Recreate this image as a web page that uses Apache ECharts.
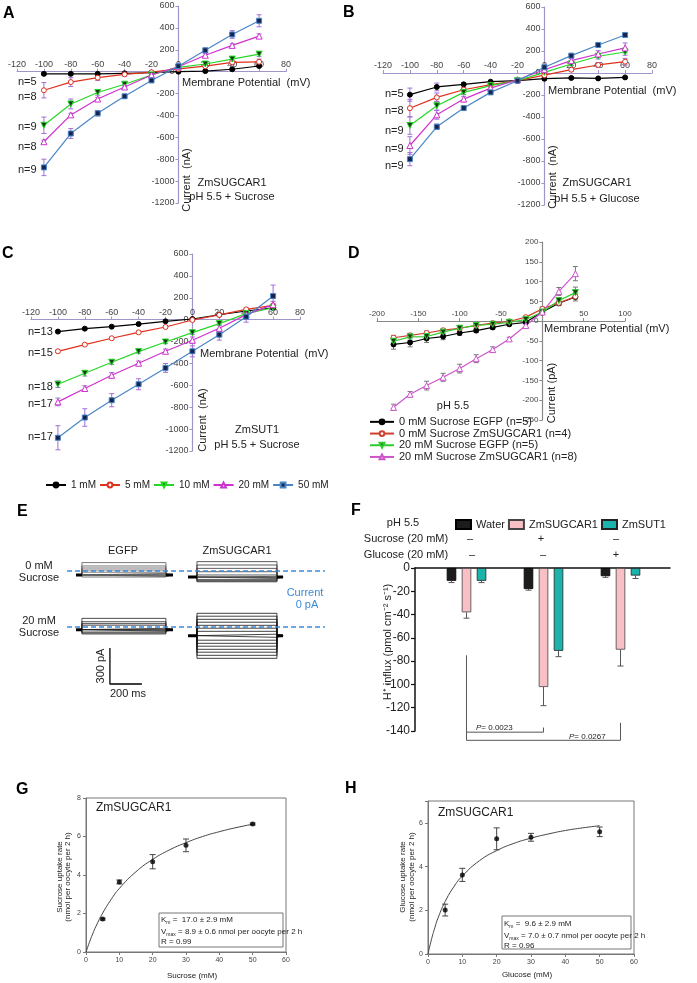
<!DOCTYPE html>
<html>
<head>
<meta charset="utf-8">
<script src="https://cdn.jsdelivr.net/npm/echarts@6/dist/echarts.min.js"></script>
<style>
  html, body { margin: 0; background: #fff; }
  #chart { width: 697px; height: 983px; }
</style>
</head>
<body>
<div id="chart"></div>
<script>
// ---- data ----
const mvABC = [-100, -80, -60, -40, -20, 0, 20, 40, 60];
const concNames = ['1 mM', '5 mM', '10 mM', '20 mM', '50 mM'];

// A: ZmSUGCAR1, sucrose (nA)
const a1 = [-20, -20, -20, -15, -10, 0, 5, 22, 52];
const a5 = [-170, -95, -55, -25, -5, 25, 50, 85, 90];
const a10 = [-490, -295, -190, -115, -30, 40, 70, 115, 160];
const a20 = [-640, -395, -250, -140, -30, 45, 150, 240, 325];
const a50 = [-875, -565, -380, -225, -80, 50, 195, 340, 465];
const aErr1 = [10, 10, 10, 10, 10, 10, 10, 10, 10];
const aErr5 = [70, 40, 25, 15, 10, 10, 15, 20, 25];
const aErr10 = [75, 45, 25, 15, 10, 10, 15, 20, 20];
const aErr20 = [15, 15, 15, 10, 10, 10, 15, 15, 20];
const aErr50 = [75, 45, 25, 15, 10, 10, 20, 35, 55];

// B: ZmSUGCAR1, glucose (nA)
const b1 = [-197, -127, -103, -79, -70, -52, -45, -49, -40];
const b5 = [-320, -222, -152, -106, -70, -20, 30, 73, 103];
const b10 = [-477, -298, -176, -115, -70, 6, 82, 152, 191];
const b20 = [-659, -380, -237, -137, -61, 30, 112, 173, 228];
const b50 = [-783, -489, -319, -176, -70, 52, 158, 255, 346];
const bErr1 = [60, 35, 15, 10, 10, 10, 10, 10, 10];
const bErr5 = [80, 40, 20, 15, 10, 10, 15, 20, 30];
const bErr10 = [80, 40, 20, 15, 10, 10, 15, 25, 30];
const bErr20 = [80, 40, 25, 15, 10, 15, 20, 30, 45];
const bErr50 = [60, 25, 15, 10, 10, 10, 10, 15, 10];

// C: ZmSUT1, sucrose (nA)
const c1 = [-109, -82, -64, -40, -15, 6, 45, 79, 109];
const c5 = [-289, -228, -170, -116, -67, -3, 43, 94, 130];
const c10 = [-590, -490, -389, -292, -204, -119, -36, 55, 109];
const c20 = [-751, -629, -508, -398, -289, -188, -79, 46, 137];
const c50 = [-1079, -894, -736, -590, -441, -289, -137, 27, 216];
const cErr1 = [10, 8, 8, 8, 8, 8, 8, 10, 10];
const cErr5 = [12, 10, 10, 10, 10, 10, 10, 12, 15];
const cErr10 = [30, 25, 20, 15, 15, 15, 15, 20, 20];
const cErr20 = [35, 25, 25, 20, 20, 30, 30, 30, 30];
const cErr50 = [110, 80, 60, 50, 40, 50, 50, 50, 100];

// D: patch clamp (pA)
const mvD = [-180, -160, -140, -120, -100, -80, -60, -40, -20, 0, 20, 40];
const dNames = ['0 mM Sucrose EGFP (n=5)', '0 mM Sucrose ZmSUGCAR1 (n=4)',
  '20 mM Sucrose EGFP (n=5)', '20 mM Sucrose ZmSUGCAR1 (n=8)'];
const dEgfp0 = [-59, -54, -44, -39, -30, -24, -16, -8, -3, 23, 45, 61];
const dSug0 = [-42, -36, -30, -23, -18, -11, -5, -1, 10, 31, 46, 62];
const dEgfp20 = [-51, -40, -39, -28, -18, -11, -8, -3, 4, 23, 52, 72];
const dSug20 = [-218, -185, -163, -142, -120, -95, -72, -45, -11, 23, 75, 120];
const dErrEgfp0 = [12, 11, 10, 8, 6, 5, 5, 4, 4, 5, 6, 10];
const dErrSug0 = [6, 5, 5, 4, 4, 3, 3, 3, 3, 5, 5, 6];
const dErrEgfp20 = [8, 8, 7, 6, 5, 4, 3, 3, 3, 5, 6, 14];
const dErrSug20 = [8, 7, 11, 10, 11, 10, 7, 4, 5, 5, 10, 18];

// E: current traces, steady levels (pA) and holding currents
const eEgfp0 = [70, 42, 25, 8, -10, -20, -28, -34, -40, -45, -50];
const eSug0 = [78, 50, 22, -6, -33, -45, -55, -62, -70, -78, -85, -90];
const eEgfp20 = [72, 44, 28, 15, -11, -20, -28, -35, -42, -50, -58];
const eSug20 = [114, 90, 64, 40, 14, -10, -36, -60, -86, -110, -136, -160, -186, -210, -236, -261];
const eHoldEgfp0 = -33, eHoldSug0 = -50, eHoldEgfp20 = -22, eHoldSug20 = -72;
const eTimeEgfp = [100, 137, 662, 706];   // ms: hold start, pulse on, pulse off, hold end
const eTimeSug = [800, 856, 1356, 1394];
const eTimeLine = [44, 1656];
const eScaleBar = [[312, -175], [312, -475], [512, -475]];

// F: H+ influx
const fGroups = ['none', 'sucrose', 'glucose'];
const fWater = [-11, -18, -7];
const fSugcar = [-38, -102, -70];
const fSut = [-11, -71, -6.5];
const fWaterErr = [1.5, 1, 1];
const fSugcarErr = [5, 16, 14];
const fSutErr = [1.5, 5, 2.5];
const fBracket1 = [[0, -75], [0, -141], [1, -141], [1, -137]];
const fBracket2 = [[0, -141], [0, -148], [2, -148], [2, -133]];

// G, H: uptake kinetics
const kConc = [5, 10, 20, 30, 50];
const gRate = [1.71, 3.64, 4.69, 5.54, 6.65];
const gErr = [0.05, 0.1, 0.37, 0.33, 0.05];
const hRate = [2.01, 3.62, 5.27, 5.34, 5.59];
const hErr = [0.27, 0.3, 0.5, 0.18, 0.22];
const fitX = [0, 1, 2, 3, 5, 7.5, 10, 15, 20, 25, 30, 35, 40, 45, 50];
const gFit = [0, 0.49, 0.94, 1.34, 2.02, 2.72, 3.30, 4.17, 4.81, 5.30, 5.68, 6.00, 6.25, 6.46, 6.64];
const hFit = [0, 0.66, 1.21, 1.68, 2.40, 3.07, 3.57, 4.27, 4.73, 5.06, 5.30, 5.49, 5.65, 5.77, 5.87];

// ---- helpers ----
const FONT = '"Liberation Sans", Arial, sans-serif';
const chart = echarts.init(document.getElementById('chart'));

const grids = [
  { left: 17, top: 6, width: 269, height: 197 },    // 0 A
  { left: 383, top: 7, width: 269, height: 198 },   // 1 B
  { left: 31, top: 254, width: 269, height: 197 },  // 2 C
  { left: 377, top: 242, width: 248, height: 178 }, // 3 D
  { left: 60, top: 547, width: 272, height: 60 },   // 4 E row 1
  { left: 60, top: 603, width: 272, height: 96 },   // 5 E row 2
  { left: 415, top: 568, width: 255, height: 163 }, // 6 F axes
  { left: 428, top: 568, width: 231, height: 175 }, // 7 F bars
  { left: 86, top: 798, width: 200, height: 154, show: true, borderColor: '#777', borderWidth: 1 }, // 8 G
  { left: 428, top: 801, width: 206, height: 153, show: true, borderColor: '#777', borderWidth: 1 } // 9 H
];

const concStyles = [
  { c: '#000000', sym: 'circle', fill: '#000000', size: 5 },
  { c: '#e0301e', sym: 'circle', fill: '#ffffff', size: 5 },
  { c: '#26d826', sym: 'triangle', fill: '#153c15', size: 6, rot: 180 },
  { c: '#cc33cc', sym: 'triangle', fill: '#ffffff', size: 6 },
  { c: '#4a86c6', sym: 'rect', fill: '#152550', size: 5 }
];
const dStyles = [
  { c: '#000000', sym: 'circle', fill: '#000000', size: 5 },
  { c: '#d0402e', sym: 'circle', fill: '#ffffff', size: 5 },
  { c: '#2ccc2c', sym: 'triangle', fill: '#143a14', size: 6, rot: 180 },
  { c: '#cc55cc', sym: 'triangle', fill: '#ffffff', size: 6 }
];

function zip(xs, ys) {
  return xs.map((x, i) => [x, ys[i]]);
}

function lineSeries(name, idx, xs, ys, st) {
  return {
    type: 'line', name: name, xAxisIndex: idx, yAxisIndex: idx,
    data: zip(xs, ys),
    symbol: st.sym, symbolSize: st.size, symbolRotate: st.rot || 0,
    lineStyle: { color: st.c, width: 1.2 },
    itemStyle: { color: st.fill, borderColor: st.c, borderWidth: 1 },
    z: 3
  };
}

function errRender(color, cap, dx, oneSided) {
  return function (params, api) {
    const x = api.value(0);
    const a = api.coord([x, api.value(1)]);
    const b = api.coord([x, api.value(2)]);
    const px = a[0] + dx;
    const st = { stroke: color, lineWidth: 1 };
    const kids = [
      { type: 'line', shape: { x1: px, y1: a[1], x2: px, y2: b[1] }, style: st },
      { type: 'line', shape: { x1: px - cap, y1: b[1], x2: px + cap, y2: b[1] }, style: st }
    ];
    if (!oneSided) {
      kids.push({ type: 'line', shape: { x1: px - cap, y1: a[1], x2: px + cap, y2: a[1] }, style: st });
    }
    return { type: 'group', children: kids };
  };
}

function errSeries(idx, xs, ys, es, color, cap) {
  return {
    type: 'custom', xAxisIndex: idx, yAxisIndex: idx, silent: true, z: 2,
    renderItem: errRender(color, cap, 0, false),
    encode: { x: 0, y: [1, 2] },
    data: xs.map((x, i) => [x, ys[i] - es[i], ys[i] + es[i]])
  };
}

function txt(x, y, text, opt) {
  opt = opt || {};
  const align = opt.align || 'left';
  return {
    type: 'text', x: x, y: y, rotation: opt.rot || 0, z: 100, silent: true,
    style: {
      text: text,
      font: (opt.italic ? 'italic ' : '') + (opt.bold ? 'bold ' : '') + (opt.size || 11) + 'px ' + FONT,
      fill: opt.color || '#222',
      align: align, textAlign: align,
      verticalAlign: 'middle', textVerticalAlign: 'middle',
      rich: opt.rich
    }
  };
}

// IV axes crossing at zero: shift each axis inward to the other axis' zero
function ivX(idx, min, max, interval, ymin, ymax, color, size) {
  const off = -grids[idx].height * ymax / (ymax - ymin);
  return {
    gridIndex: idx, type: 'value', min: min, max: max, interval: interval,
    position: 'top', offset: off,
    axisLine: { onZero: false, lineStyle: { color: color, width: 1.2 } },
    axisTick: { show: true, length: 3, lineStyle: { color: color } },
    axisLabel: { fontSize: size, color: '#444', margin: 3, fontFamily: FONT, formatter: (v) => String(v) },
    splitLine: { show: false }
  };
}
function ivY(idx, min, max, interval, xmin, xmax, color, size) {
  const off = grids[idx].width * xmin / (xmax - xmin);
  return {
    gridIndex: idx, type: 'value', min: min, max: max, interval: interval,
    position: 'left', offset: off,
    axisLine: { onZero: false, lineStyle: { color: color, width: 1.2 } },
    axisTick: { show: true, length: 3, lineStyle: { color: color } },
    axisLabel: { fontSize: size, color: '#444', margin: 4, fontFamily: FONT, formatter: (v) => String(v) },
    splitLine: { show: false }
  };
}
function hidden(idx, type, min, max) {
  return { gridIndex: idx, type: type, min: min, max: max, show: false };
}
function boxX(idx) {
  return {
    gridIndex: idx, type: 'value', min: 0, max: 60, interval: 10,
    axisLine: { onZero: false, lineStyle: { color: '#777' } },
    axisTick: { length: 3, lineStyle: { color: '#777' } },
    axisLabel: { fontSize: 7, color: '#444', margin: 5, fontFamily: FONT },
    splitLine: { show: false }
  };
}
function boxY(idx, max) {
  return {
    gridIndex: idx, type: 'value', min: 0, max: max, interval: 2,
    axisLine: { onZero: false, lineStyle: { color: '#777' } },
    axisTick: { length: 3, lineStyle: { color: '#777' } },
    axisLabel: { fontSize: 7, color: '#444', margin: 5, fontFamily: FONT,
      formatter: (v) => (v % 2 === 0 ? String(v) : '') },
    splitLine: { show: false }
  };
}

const series = [];

// A, B, C
const ivPanels = [
  { idx: 0, vals: [a1, a5, a10, a20, a50], errs: [aErr1, aErr5, aErr10, aErr20, aErr50] },
  { idx: 1, vals: [b1, b5, b10, b20, b50], errs: [bErr1, bErr5, bErr10, bErr20, bErr50] },
  { idx: 2, vals: [c1, c5, c10, c20, c50], errs: [cErr1, cErr5, cErr10, cErr20, cErr50] }
];
ivPanels.forEach((p) => {
  p.vals.forEach((ys, k) => {
    series.push(errSeries(p.idx, mvABC, ys, p.errs[k], '#a070d8', 2.5));
    series.push(lineSeries(concNames[k], p.idx, mvABC, ys, concStyles[k]));
  });
});

// D
[dEgfp0, dSug0, dEgfp20, dSug20].forEach((ys, k) => {
  const es = [dErrEgfp0, dErrSug0, dErrEgfp20, dErrSug20][k];
  series.push(errSeries(3, mvD, ys, es, '#777777', 2.5));
  series.push(lineSeries(dNames[k], 3, mvD, ys, dStyles[k]));
});

// E: traces
function traceSeries(idx, times, hold, levels, color) {
  levels.forEach((lv) => {
    series.push({
      type: 'line', xAxisIndex: idx, yAxisIndex: idx, symbol: 'none', silent: true,
      lineStyle: { color: color, width: 0.8 },
      data: [[times[0], hold], [times[1], hold], [times[1], lv], [times[2], lv],
        [times[2], hold], [times[3], hold]]
    });
  });
  [[times[0], times[1]], [times[2], times[3]]].forEach((seg) => {
    series.push({
      type: 'line', xAxisIndex: idx, yAxisIndex: idx, symbol: 'none', silent: true,
      lineStyle: { color: '#000', width: 3 },
      data: [[seg[0], hold], [seg[1], hold]]
    });
  });
}
traceSeries(4, eTimeEgfp, eHoldEgfp0, eEgfp0, '#555');
traceSeries(4, eTimeSug, eHoldSug0, eSug0, '#333');
traceSeries(5, eTimeEgfp, eHoldEgfp20, eEgfp20, '#222');
traceSeries(5, eTimeSug, eHoldSug20, eSug20, '#111');
[4, 5].forEach((idx) => {
  series.push({
    type: 'line', xAxisIndex: idx, yAxisIndex: idx, symbol: 'none', silent: true, z: 5,
    lineStyle: { color: '#3a8ad8', width: 1.5, type: [5, 3] },
    data: [[eTimeLine[0], 0], [eTimeLine[1], 0]]
  });
});
series.push({
  type: 'line', xAxisIndex: 5, yAxisIndex: 5, symbol: 'none', silent: true,
  lineStyle: { color: '#000', width: 1.3 }, data: eScaleBar
});

// F: bars
const fBarStyles = [
  { name: 'Water', vals: fWater, errs: fWaterErr, color: '#1c1c1c', border: '#000', dx: -15 },
  { name: 'ZmSUGCAR1', vals: fSugcar, errs: fSugcarErr, color: '#f8c0c4', border: '#444', dx: 0 },
  { name: 'ZmSUT1', vals: fSut, errs: fSutErr, color: '#1bb3ac', border: '#222', dx: 15 }
];
fBarStyles.forEach((b) => {
  series.push({
    type: 'bar', name: b.name, xAxisIndex: 7, yAxisIndex: 7, data: b.vals,
    barWidth: 9.5, barGap: '58%',
    itemStyle: { color: b.color, borderColor: b.border, borderWidth: 0.8 }
  });
  series.push({
    type: 'custom', xAxisIndex: 7, yAxisIndex: 7, silent: true, z: 3,
    renderItem: errRender('#555', 3, b.dx, true),
    encode: { x: 0, y: [1, 2] },
    data: b.vals.map((v, i) => [i, v, v - b.errs[i]])
  });
});
[fBracket1, fBracket2].forEach((br) => {
  series.push({
    type: 'line', xAxisIndex: 6, yAxisIndex: 6, symbol: 'none', silent: true, clip: false,
    lineStyle: { color: '#555', width: 1 }, data: br
  });
});

// G, H
[[8, gRate, gErr, gFit], [9, hRate, hErr, hFit]].forEach((k) => {
  const idx = k[0];
  series.push({
    type: 'line', xAxisIndex: idx, yAxisIndex: idx, symbol: 'none', smooth: true, silent: true,
    lineStyle: { color: '#444', width: 1 }, data: zip(fitX, k[3])
  });
  series.push(errSeries(idx, kConc, k[1], k[2], '#444', 3));
  series.push({
    type: 'scatter', xAxisIndex: idx, yAxisIndex: idx, symbol: 'circle', symbolSize: 5,
    itemStyle: { color: '#000' }, data: zip(kConc, k[1]), z: 4
  });
});

// ---- texts ----
const g = [];
[['A', 3, 14], ['B', 343, 13], ['C', 2, 254], ['D', 348, 254],
  ['E', 17, 512], ['F', 351, 511], ['G', 16, 790], ['H', 345, 789]].forEach((l) => {
  g.push(txt(l[1], l[2], l[0], { bold: true, size: 16, color: '#000' }));
});

// A
g.push(txt(232, 183, 'ZmSUGCAR1', { align: 'center' }));
g.push(txt(232, 197, 'pH 5.5 + Sucrose', { align: 'center' }));
g.push(txt(182, 83, 'Membrane Potential  (mV)'));
g.push(txt(187, 180, 'Current  (nA)', { align: 'center', rot: Math.PI / 2 }));
[['n=5', 82], ['n=8', 97], ['n=9', 127], ['n=8', 147], ['n=9', 170]].forEach((n) => {
  g.push(txt(18, n[1], n[0]));
});
// B
g.push(txt(597, 183, 'ZmSUGCAR1', { align: 'center' }));
g.push(txt(597, 199, 'pH 5.5 + Glucose', { align: 'center' }));
g.push(txt(548, 91, 'Membrane Potential  (mV)'));
g.push(txt(553, 177, 'Current  (nA)', { align: 'center', rot: Math.PI / 2 }));
[['n=5', 94], ['n=8', 111], ['n=9', 131], ['n=9', 149], ['n=9', 166]].forEach((n) => {
  g.push(txt(385, n[1], n[0]));
});
// C
g.push(txt(257, 430, 'ZmSUT1', { align: 'center' }));
g.push(txt(257, 445, 'pH 5.5 + Sucrose', { align: 'center' }));
g.push(txt(200, 354, 'Membrane Potential  (mV)'));
g.push(txt(203, 420, 'Current  (nA)', { align: 'center', rot: Math.PI / 2 }));
[['n=13', 332], ['n=15', 353], ['n=18', 387], ['n=17', 404], ['n=17', 437]].forEach((n) => {
  g.push(txt(28, n[1], n[0]));
});
// D
g.push(txt(453, 406, 'pH 5.5', { align: 'center' }));
g.push(txt(544, 329, 'Membrane Potential (mV)'));
g.push(txt(552, 393, 'Current (pA)', { align: 'center', rot: Math.PI / 2 }));
// E
g.push(txt(123, 551, 'EGFP', { align: 'center' }));
g.push(txt(237, 551, 'ZmSUGCAR1', { align: 'center' }));
g.push(txt(39, 566, '0 mM', { align: 'center' }));
g.push(txt(39, 578, 'Sucrose', { align: 'center' }));
g.push(txt(39, 621, '20 mM', { align: 'center' }));
g.push(txt(39, 633, 'Sucrose', { align: 'center' }));
g.push(txt(305, 593, 'Current', { align: 'center', color: '#3a8ad8' }));
g.push(txt(307, 605, '0 pA', { align: 'center', color: '#3a8ad8' }));
g.push(txt(101, 666, '300 pA', { align: 'center', rot: Math.PI / 2 }));
g.push(txt(128, 694, '200 ms', { align: 'center' }));
// F
g.push(txt(403, 523, 'pH 5.5', { align: 'center' }));
g.push(txt(406, 539, 'Sucrose (20 mM)', { align: 'center' }));
g.push(txt(406, 555, 'Glucose (20 mM)', { align: 'center' }));
[['–', 470, 539], ['+', 541, 539], ['–', 616, 539],
  ['–', 472, 555], ['–', 543, 555], ['+', 616, 555]].forEach((s) => {
  g.push(txt(s[1], s[2], s[0], { align: 'center' }));
});
g.push(txt(388, 642, 'H⁺ influx (pmol cm⁻² s⁻¹)', { align: 'center', rot: Math.PI / 2 }));
g.push(txt(476, 728, '{i|P}= 0.0023', { size: 8, rich: { i: { fontStyle: 'italic', fontSize: 8 } } }));
g.push(txt(569, 737, '{i|P}= 0.0267', { size: 8, rich: { i: { fontStyle: 'italic', fontSize: 8 } } }));
// G
const sub = { s: { fontSize: 5, padding: [5, 0, 0, 0] } };
g.push(txt(96, 808, 'ZmSUGCAR1', { size: 12 }));
g.push(txt(60, 877, 'Sucrose uptake rate', { align: 'center', size: 8, rot: Math.PI / 2 }));
g.push(txt(68, 877, '(nmol per oocyte per 2 h)', { align: 'center', size: 8, rot: Math.PI / 2 }));
g.push(txt(192, 976, 'Sucrose (mM)', { align: 'center', size: 8 }));
g.push({ type: 'rect', shape: { x: 159, y: 913, width: 124, height: 34 }, z: 90,
  style: { fill: '#fff', stroke: '#777', lineWidth: 1 } });
g.push(txt(161, 920, 'K{s|m} =  17.0 ± 2.9 mM', { size: 8, rich: sub }));
g.push(txt(161, 932, 'V{s|max} = 8.9 ± 0.6 nmol per oocyte per 2 h', { size: 8, rich: sub }));
g.push(txt(161, 942, 'R = 0.99', { size: 8 }));
// H
g.push(txt(438, 813, 'ZmSUGCAR1', { size: 12 }));
g.push(txt(403, 877, 'Glucose uptake rate', { align: 'center', size: 8, rot: Math.PI / 2 }));
g.push(txt(412, 877, '(nmol per oocyte per 2 h)', { align: 'center', size: 8, rot: Math.PI / 2 }));
g.push(txt(527, 975, 'Glucose (mM)', { align: 'center', size: 8 }));
g.push({ type: 'rect', shape: { x: 502, y: 916, width: 129, height: 33 }, z: 90,
  style: { fill: '#fff', stroke: '#777', lineWidth: 1 } });
g.push(txt(504, 924, 'K{s|m} =  9.6 ± 2.9 mM', { size: 8, rich: sub }));
g.push(txt(504, 936, 'V{s|max} = 7.0 ± 0.7 nmol per oocyte per 2 h', { size: 8, rich: sub }));
g.push(txt(504, 946, 'R = 0.96', { size: 8 }));

const ivColor = '#a094c8';

chart.setOption({
  animation: false,
  textStyle: { fontFamily: FONT },
  grid: grids,
  xAxis: [
    ivX(0, -120, 80, 20, -1200, 600, ivColor, 9),
    ivX(1, -120, 80, 20, -1200, 600, ivColor, 9),
    ivX(2, -120, 80, 20, -1200, 600, ivColor, 9),
    ivX(3, -200, 100, 50, -250, 200, '#888', 8),
    hidden(4, 'value', 0, 1700),
    hidden(5, 'value', 0, 1700),
    {
      gridIndex: 6, type: 'value', min: -0.6688, max: 2.6429, position: 'top',
      axisLine: { onZero: false, lineStyle: { color: '#111', width: 1.5 } },
      axisTick: { show: false }, axisLabel: { show: false }, splitLine: { show: false }
    },
    { gridIndex: 7, type: 'category', data: fGroups, show: false },
    boxX(8),
    boxX(9)
  ],
  yAxis: [
    ivY(0, -1200, 600, 200, -120, 80, ivColor, 9),
    ivY(1, -1200, 600, 200, -120, 80, ivColor, 9),
    ivY(2, -1200, 600, 200, -120, 80, ivColor, 9),
    ivY(3, -250, 200, 50, -200, 100, '#888', 8),
    hidden(4, 'value', -300, 200),
    hidden(5, 'value', -600, 200),
    {
      gridIndex: 6, type: 'value', min: -140, max: 0, interval: 20, position: 'left',
      axisLine: { show: true, onZero: false, lineStyle: { color: '#111', width: 1.5 } },
      axisTick: { show: true, length: 4, lineStyle: { color: '#111', width: 1.2 } },
      axisLabel: { fontSize: 12, color: '#222', margin: 5, fontFamily: FONT },
      splitLine: { show: false }
    },
    hidden(7, 'value', -150, 0),
    boxY(8, 8),
    boxY(9, 7)
  ],
  legend: [
    {
      data: concNames, left: 45, top: 480, padding: 0, itemWidth: 20, itemHeight: 6, itemGap: 3,
      textStyle: { fontSize: 10, color: '#222' }, selectedMode: false
    },
    {
      data: dNames, orient: 'vertical', left: 369, top: 416, padding: 0, itemWidth: 24, itemHeight: 6,
      itemGap: 0, textStyle: { fontSize: 11, color: '#222', lineHeight: 11.7 }, selectedMode: false
    },
    {
      data: ['Water', 'ZmSUGCAR1', 'ZmSUT1'], left: 455, top: 519, padding: 0, icon: 'rect',
      itemWidth: 15, itemHeight: 9, itemGap: 3, textStyle: { fontSize: 11, color: '#222' },
      selectedMode: false
    }
  ],
  graphic: g,
  series: series
});
</script>
</body>
</html>
